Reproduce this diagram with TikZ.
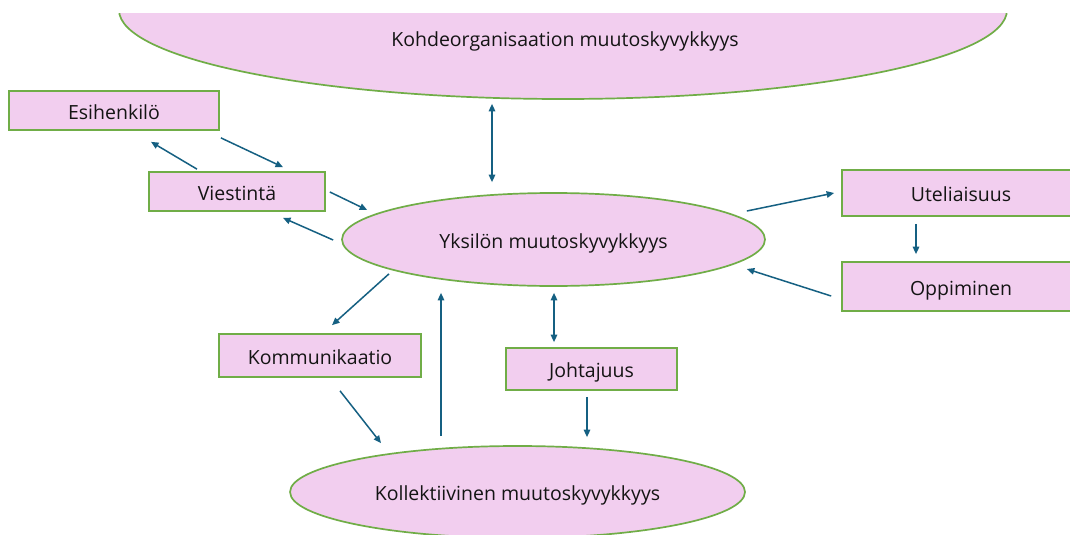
\documentclass[tikz,border=0pt]{standalone}
\usepackage{fontspec}
\setmainfont{Open Sans}
\usetikzlibrary{shapes.geometric,arrows.meta}
\definecolor{pinkfill}{RGB}{242,206,239}
\definecolor{greenline}{RGB}{112,173,71}
\definecolor{arrowcol}{RGB}{21,96,130}
\definecolor{txt}{RGB}{20,20,20}
\tikzset{
  lbl/.style={text=txt,font=\fontsize{19.5}{22}\selectfont,text height=17pt,text depth=0pt},
  box/.style={lbl,draw=greenline,fill=pinkfill,line width=1.7pt,rectangle,inner sep=0pt},
  ell/.style={lbl,draw=greenline,fill=pinkfill,line width=1.7pt,ellipse,inner sep=0pt},
  arr/.style={draw=arrowcol,line width=1.5pt,-{Triangle[length=7.5pt,width=6.5pt]}},
  darr/.style={draw=arrowcol,line width=1.5pt,{Triangle[length=7.5pt,width=6.5pt]}-{Triangle[length=7.5pt,width=6.5pt]}}
}
\begin{document}
\begin{tikzpicture}[x=1pt,y=-1pt]
\useasboundingbox (0,0) rectangle (1070,535);
\clip (0,0) rectangle (1070,535);
\fill[white] (0,0) rectangle (1070,535);
\begin{scope}
\clip (0,14) rectangle (1070,535);
\node[ell,minimum width=888,minimum height=178] (top) at (563,10) {};
\end{scope}
\node[lbl] (toptext) at (565,38) {Kohdeorganisaation muutoskyvykkyys};
\node[box,minimum width=210,minimum height=39] (esi) at (114,110.5) {Esihenkilö};
\node[box,minimum width=176,minimum height=39] (vie) at (237,191.5) {Viestintä};
\node[ell,minimum width=423,minimum height=93] (yks) at (553.5,239.5) {Yksilön muutoskyvykkyys};
\node[box,minimum width=238,minimum height=46] (ute) at (961,193) {Uteliaisuus};
\node[box,minimum width=238,minimum height=49] (opp) at (961,286.5) {Oppiminen};
\node[box,minimum width=202,minimum height=43] (kom) at (320,355.5) {Kommunikaatio};
\node[box,minimum width=171,minimum height=42] (joh) at (591.5,369) {Johtajuus};
\node[ell,minimum width=455,minimum height=92] (kol) at (517.5,492) {Kollektiivinen muutoskyvykkyys};

\draw[arr] ([shift={(1,7)}]esi.south east) -- ([shift={(46,-4)}]vie.north);
\draw[arr] ([shift={(-40,-2)}]vie.north) -- ([shift={(37,11)}]esi.south);
\draw[arr] ([shift={(4,0.5)}]vie.east) -- ([shift={(26,-29.5)}]yks.west);
\draw[arr] ([shift={(-8,0.5)}]yks.west) -- ([shift={(46,6)}]vie.south);
\draw[darr] ([shift={(-71,4)}]top.south) -- ([shift={(-61.5,-10)}]yks.north);
\draw[arr] ([shift={(-19,-28.5)}]yks.east) -- ([shift={(-7,0)}]ute.west);
\draw[arr] ([shift={(-45,7)}]ute.south) -- ([shift={(-45,-7)}]opp.north);
\draw[arr] ([shift={(-10,9.5)}]opp.west) -- ([shift={(-19,29.5)}]yks.east);
\draw[arr] ([shift={(-164.5,-13)}]yks.south) -- ([shift={(12,-8)}]kom.north);
\draw[arr] ([shift={(20,13)}]kom.south) -- ([shift={(-136.5,-2)}]kol.north);
\draw[arr] ([shift={(-76.5,-9)}]kol.north) -- ([shift={(-112.5,6)}]yks.south);
\draw[darr] ([shift={(0.5,6)}]yks.south) -- ([shift={(-37.5,-5)}]joh.north);
\draw[arr] ([shift={(-4.5,6)}]joh.south) -- ([shift={(69.5,-8)}]kol.north);
\end{tikzpicture}
\end{document}
